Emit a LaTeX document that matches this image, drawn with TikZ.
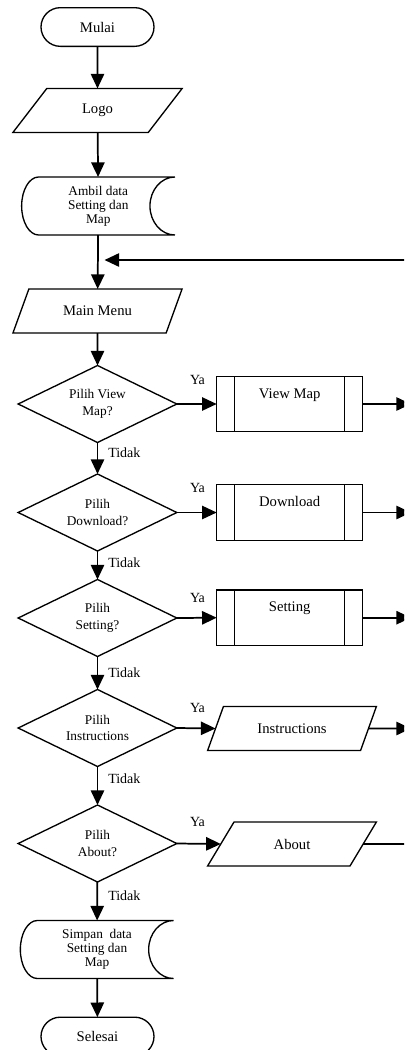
\documentclass[tikz,border=0pt]{standalone}
\usepackage{fontspec}
\setmainfont{Liberation Serif}
\usetikzlibrary{shapes.geometric,shapes.misc,arrows.meta}

\tikzset{
  term/.style={draw, line width=1pt, rounded rectangle, minimum width=84.75pt, minimum height=29pt, inner sep=0pt, outer sep=0pt, font=\fontsize{11}{13}\selectfont},
  io/.style={draw, line width=1pt, trapezium, trapezium left angle=51, trapezium right angle=129, trapezium stretches=true, minimum width=127pt, minimum height=33pt, inner sep=0pt, outer sep=0pt, font=\fontsize{11}{13}\selectfont},
  decide/.style={draw, line width=1pt, diamond, aspect=2, minimum width=119pt, minimum height=57.75pt, inner sep=0pt, outer sep=0pt, align=center, font=\fontsize{10}{12.5}\selectfont},
  sub/.style={draw, line width=1pt, rectangle, minimum width=109.5pt, minimum height=41.6pt, inner sep=0pt, outer sep=0pt, align=center, font=\fontsize{11}{13}\selectfont},
  store/.style={rectangle, minimum width=115pt, minimum height=43.5pt, inner sep=0pt, outer sep=0pt, align=center, font=\fontsize{10}{10.5}\selectfont},
  arr/.style={line width=1.3pt, -{Triangle[length=11pt,width=10pt]}},
  lbl/.style={inner sep=0pt, font=\fontsize{10.5}{12}\selectfont},
}

\begin{document}
\begin{tikzpicture}[x=0.75pt, y=-0.75pt]
\useasboundingbox (0,0) rectangle (404,1050);
\clip (0,0) rectangle (404,1050);
\def\cx{97.5}
\def\bx{289.7}

% main column
\node[term] (mulai) at (\cx, 27) {Mulai};
\node[io] (logo) at (\cx, 110.5) {Logo};
\node[store] (ambil) at (98.3, 206) {Ambil data\\Setting dan\\Map};
\node[io] (menu) at (\cx, 311) {Main Menu};
\node[decide] (d1) at (\cx, 404) {Pilih View\\Map?};
\node[decide] (d2) at (\cx, 512.5) {Pilih\\Download?};
\node[decide] (d3) at (\cx, 618) {Pilih\\Setting?};
\node[decide] (d4) at (\cx, 728) {Pilih\\Instructions};
\node[decide] (d5) at (\cx, 843.5) {Pilih\\About?};
\node[store] (simpan) at (97, 949.5) {Simpan~ data\\Setting dan\\Map};
\node[term] (selesai) at (\cx, 1036.5) {Selesai};

% stored data outlines
\draw[line width=1pt] ([xshift=12.75pt]ambil.north west) -- (ambil.north east)
  arc[start angle=90, end angle=270, x radius=18.75pt, y radius=21.75pt]
  -- ([xshift=12.75pt]ambil.south west)
  arc[start angle=270, end angle=90, x radius=12.75pt, y radius=21.75pt] -- cycle;
\draw[line width=1pt] ([xshift=12.75pt]simpan.north west) -- (simpan.north east)
  arc[start angle=90, end angle=270, x radius=18.75pt, y radius=21.75pt]
  -- ([xshift=12.75pt]simpan.south west)
  arc[start angle=270, end angle=90, x radius=12.75pt, y radius=21.75pt] -- cycle;

% right column
\node[sub] (vmap) at (\bx, 404) {View Map\\[3pt]~};
\node[sub] (dl) at (\bx, 512.5) {Download\\[3pt]~};
\node[sub] (set) at (\bx, 617.7) {Setting\\[3pt]~};
\node[io] (instr) at (292, 728.5) {Instructions};
\node[io] (about) at (292, 844) {About};

\draw[line width=1pt] ([xshift=13.5pt]vmap.north west) -- ([xshift=13.5pt]vmap.south west);
\draw[line width=1pt] ([xshift=-13.5pt]vmap.north east) -- ([xshift=-13.5pt]vmap.south east);
\draw[line width=1pt] ([xshift=13.5pt]dl.north west) -- ([xshift=13.5pt]dl.south west);
\draw[line width=1pt] ([xshift=-13.5pt]dl.north east) -- ([xshift=-13.5pt]dl.south east);
\draw[line width=1pt] ([xshift=13.5pt]set.north west) -- ([xshift=13.5pt]set.south west);
\draw[line width=1pt] ([xshift=-13.5pt]set.north east) -- ([xshift=-13.5pt]set.south east);

% loose ends on the right
\coordinate (ret) at (411, 260);
\coordinate (join) at (104.5, 260);
\coordinate (o1) at (411, 404);
\coordinate (o2) at (411, 512.5);
\coordinate (o3) at (411, 617.7);
\coordinate (o4) at (411, 728.5);
\coordinate (o5) at (411, 844);

\draw[arr] (mulai) -- (logo);
\draw[arr] (logo) -- (ambil);
\draw[arr] (ambil) -- (menu);
\draw[arr] (ret) -- (join);
\draw[arr] (menu) -- (d1);
\draw[arr] (d1) -- (d2);
\draw[arr] (d2) -- (d3);
\draw[arr] (d3) -- (d4);
\draw[arr] (d4) -- (d5);
\draw[arr] (d5) -- (simpan);
\draw[arr] (simpan) -- (selesai);

\draw[arr] (d1.east) -- (vmap.west);
\draw[arr] (d2.east) -- (dl.west);
\draw[arr] (d3.east) -- (set.west);
\draw[arr] (d4.east) -- (instr.west);
\draw[arr] (d5.east) -- (about.west);

\draw[arr] (vmap.east) -- (o1);
\draw[arr] (dl.east) -- (o2);
\draw[arr] (set.east) -- (o3);
\draw[arr] (instr.east) -- (o4);
\draw[line width=1.3pt] (about.east) -- (o5);

% labels
\node[lbl] (ya1) at (197.5, 380) {Ya};
\node[lbl] (ya2) at (197.5, 488) {Ya};
\node[lbl] (ya3) at (197.5, 598) {Ya};
\node[lbl] (ya4) at (197.5, 708) {Ya};
\node[lbl] (ya5) at (197.5, 822) {Ya};
\node[lbl, anchor=west] (t1) at (108, 453) {Tidak};
\node[lbl, anchor=west] (t2) at (108, 563) {Tidak};
\node[lbl, anchor=west] (t3) at (108, 673) {Tidak};
\node[lbl, anchor=west] (t4) at (108, 779) {Tidak};
\node[lbl, anchor=west] (t5) at (108, 896) {Tidak};
\end{tikzpicture}
\end{document}
